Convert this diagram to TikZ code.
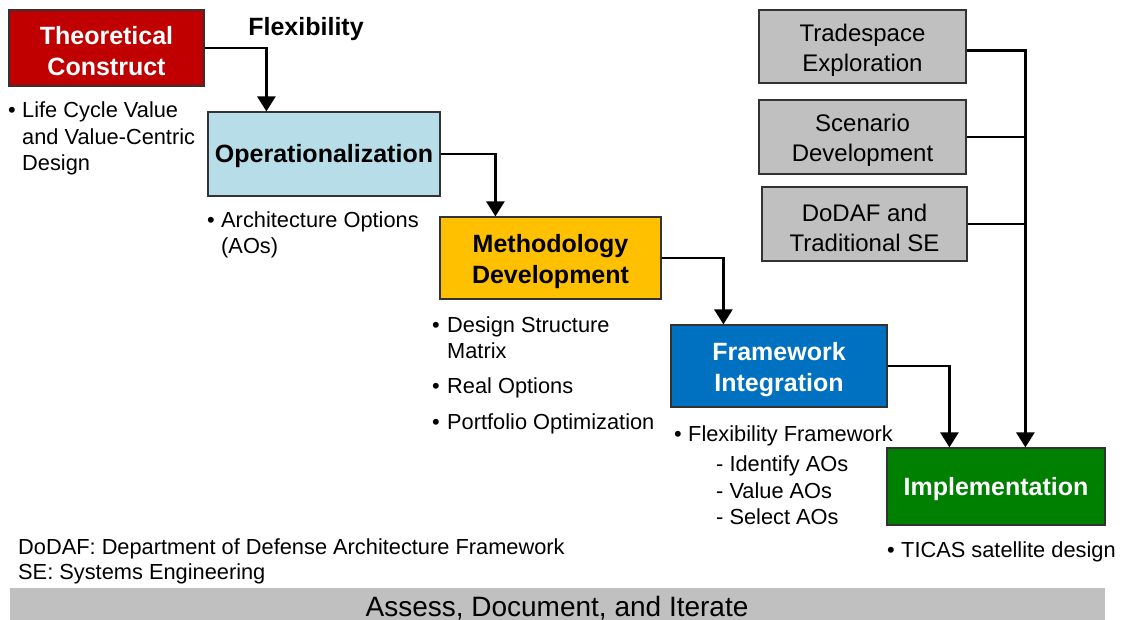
\documentclass[tikz,border=0pt]{standalone}
\usepackage{fontspec}
\setmainfont{Liberation Sans}
\usetikzlibrary{arrows.meta}
\definecolor{crimson}{HTML}{C00000}
\definecolor{paleblue}{HTML}{B7DEE8}
\definecolor{amber}{HTML}{FFC000}
\definecolor{royal}{HTML}{0070C0}
\definecolor{leaf}{HTML}{008000}
\definecolor{silver}{HTML}{C0C0C0}
\tikzset{
  box/.style={draw=black!80, line width=1.2pt, rectangle, inner sep=0pt},
  stagetext/.style={align=center, inner sep=0pt, font=\fontsize{25}{30.5}\selectfont\bfseries},
  auxtext/.style={align=center, inner sep=0pt, font=\fontsize{24}{30}\selectfont},
  note/.style={anchor=base west, inner sep=0pt, font=\fontsize{21.8}{25}\selectfont},
  flow/.style={line width=2.7pt, -{Triangle[length=15pt,width=18pt]}},
  feed/.style={line width=2.7pt}
}
\begin{document}
\begin{tikzpicture}[x=1pt,y=-1pt]
\useasboundingbox (0,0) rectangle (1126,620);
\fill[white] (0,0) rectangle (1126,620);

% main stages
\node[box, fill=crimson, minimum width=195pt, minimum height=76pt] (tc) at (106.5,48) {};
\node[box, fill=paleblue, minimum width=232pt, minimum height=84pt] (op) at (324,154) {};
\node[box, fill=amber, minimum width=221pt, minimum height=82pt] (md) at (550.5,258) {};
\node[box, fill=royal, minimum width=216pt, minimum height=82pt] (fi) at (779,366) {};
\node[box, fill=leaf, minimum width=218pt, minimum height=77pt] (im) at (996,486.5) {};

\node[stagetext, text=white] (tct) at ([yshift=-3pt]tc.center) {Theoretical\\Construct};
\node[stagetext] (opt) at ([yshift=-2.5pt]op.center) {Operationalization};
\node[stagetext] (mdt) at ([yshift=-3.5pt]md.center) {Methodology\\Development};
\node[stagetext, text=white] (fit) at ([yshift=-3.5pt]fi.center) {Framework\\Integration};
\node[stagetext, text=white] (imt) at ([yshift=-3pt]im.center) {Implementation};

% supporting inputs
\node[box, fill=silver, minimum width=207pt, minimum height=73pt] (ts) at (862.5,46.5) {};
\node[box, fill=silver, minimum width=207pt, minimum height=74pt] (sd) at (862.5,137) {};
\node[box, fill=silver, minimum width=205pt, minimum height=74pt] (dd) at (864.5,224) {};

\node[auxtext] (tst) at ([yshift=-3.5pt]ts.center) {Tradespace\\Exploration};
\node[auxtext] (sdt) at ([yshift=-3.5pt]sd.center) {Scenario\\Development};
\node[auxtext] (ddt) at ([yshift=-3.5pt]dd.center) {DoDAF and\\Traditional SE};

\node[stagetext] (flex) at (306,29) {Flexibility};

% connectors between stages
\draw[flow] (tc.east) -| ([xshift=59pt]op.north west);
\draw[flow] (op.east) -| ([xshift=56pt]md.north west);
\draw[flow] (md.east) -| ([xshift=53pt]fi.north west);
\draw[flow] (fi.east) -| ([xshift=63pt]im.north west);

% bus from the supporting inputs
\coordinate (bus) at (1026,137);
\draw[flow] ([yshift=-4pt]ts.east) -| ([xshift=139pt]im.north west);
\draw[feed] (sd.east) -- (sd.east -| bus);
\draw[feed] (dd.east) -- (dd.east -| bus);

% notes under each stage
\node[note] (b1) at (8,118) {•};
\node[note] (n1a) at (22,118) {Life Cycle Value};
\node[note] (n1b) at (22,145) {and Value-Centric};
\node[note] (n1c) at (22,171) {Design};

\node[note] (b2) at (207,228) {•};
\node[note] (n2a) at (221,228) {Architecture Options};
\node[note] (n2b) at (221,254) {(AOs)};

\node[note] (b3) at (432,332) {•};
\node[note] (n3a) at (447,332) {Design Structure};
\node[note] (n3b) at (447,358) {Matrix};
\node[note] (b4) at (432,393) {•};
\node[note] (n4) at (447,393) {Real Options};
\node[note] (b5) at (432,429) {•};
\node[note] (n5) at (447,429) {Portfolio Optimization};

\node[note] (b6) at (674,441) {•};
\node[note] (n6) at (688,441) {Flexibility Framework};
\node[note] (n6a) at (716,471) {- Identify AOs};
\node[note] (n6b) at (716,498) {- Value AOs};
\node[note] (n6c) at (716,524) {- Select AOs};

\node[note] (b7) at (887,557) {•};
\node[note] (n7) at (901,557) {TICAS satellite design};

% abbreviations
\node[note] (ab1) at (18,554) {DoDAF: Department of Defense Architecture Framework};
\node[note] (ab2) at (18,579) {SE: Systems Engineering};

% iteration bar
\fill[silver] (10,588) rectangle (1105,620);
\node[anchor=center, inner sep=0pt, font=\fontsize{28}{30}\selectfont] (iter) at (557,608) {Assess, Document, and Iterate};
\end{tikzpicture}
\end{document}
